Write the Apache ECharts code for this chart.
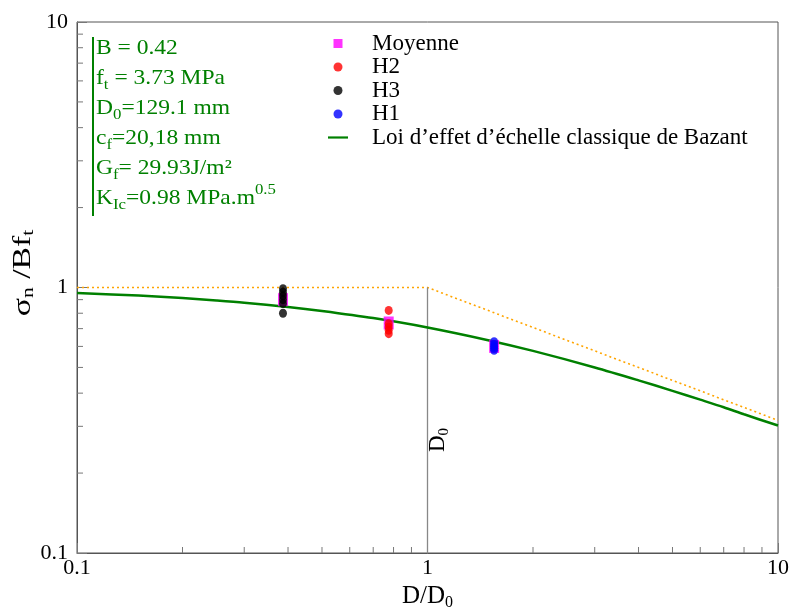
<!DOCTYPE html>
<html>
<head>
<meta charset="utf-8">
<script src="https://cdn.jsdelivr.net/npm/echarts@6/dist/echarts.min.js"></script>
<style>html,body{margin:0;padding:0;background:#fff}#c{width:790px;height:608px}</style>
</head>
<body>
<div id="c"></div>
<script>
// ---- data ----
const xTickLabels = ['0.1', '1', '10'];
const yTickLabels = ['0.1', '1', '10'];
const minorTicks = [0.2, 0.3, 0.4, 0.5, 0.6, 0.7, 0.8, 0.9, 2, 3, 4, 5, 6, 7, 8, 9];

const moyenne = [[0.387, 0.90], [0.775, 0.735], [1.549, 0.60]];
const h2 = [[0.775, 0.82], [0.775, 0.73], [0.775, 0.71], [0.775, 0.69], [0.775, 0.67]];
const h3 = [[0.387, 0.99], [0.387, 0.96], [0.387, 0.93], [0.387, 0.90], [0.387, 0.87], [0.387, 0.80]];
const h1 = [[1.549, 0.625], [1.549, 0.61], [1.549, 0.60], [1.549, 0.59], [1.549, 0.58]];

const bazantX = [0.1, 0.15, 0.2, 0.25, 0.3, 0.4, 0.5, 0.7, 1, 1.5, 2, 3, 4, 5, 6, 7, 8, 10];
const bazantY = [0.953, 0.932, 0.913, 0.894, 0.877, 0.845, 0.816, 0.767, 0.707, 0.632, 0.577, 0.50, 0.447, 0.408, 0.378, 0.354, 0.333, 0.302];

const limitX = [0.1, 1, 10];
const limitY = [1, 1, 0.316];

const d0LineX = [1, 1];
const d0LineY = [0.1, 1];

const lawName = 'Loi d\u2019effet d\u2019\u00e9chelle classique de Bazant';

// ---- chart ----
const serif = '"Liberation Serif", "DejaVu Serif", serif';
const chart = echarts.init(document.getElementById('c'), null, {renderer: 'canvas'});

const zip = (a, b) => a.map((v, i) => [v, b[i]]);

const option = {
  backgroundColor: '#fff',
  animation: false,
  grid: {left: 77, right: 12, top: 22, bottom: 55, show: true, borderColor: '#555', borderWidth: 1,
    containLabel: false, outerBoundsMode: 'none'},
  legend: {
    left: 323, top: 27, orient: 'vertical', itemGap: 0.5, itemWidth: 20, itemHeight: 9,
    textStyle: {fontFamily: serif, fontSize: 23, color: '#000', lineHeight: 23, padding: [0, 0, 0, 19]},
    data: [
      {name: 'Moyenne', icon: 'path://M0,0H10V10H0Z'},
      {name: 'H2', icon: 'path://M0,4A4,4,0,1,1,8,4A4,4,0,1,1,0,4Z'},
      {name: 'H3', icon: 'path://M0,4A4,4,0,1,1,8,4A4,4,0,1,1,0,4Z'},
      {name: 'H1', icon: 'path://M0,4A4,4,0,1,1,8,4A4,4,0,1,1,0,4Z'},
      {name: lawName, icon: 'path://M0,0H20V2.2H0Z'}
    ]
  },
  xAxis: {
    type: 'log', logBase: 10, min: 0.1, max: 10,
    name: '{a|D/D}{s|0}', nameLocation: 'middle', nameGap: 21,
    nameTextStyle: {rich: {
      a: {fontFamily: serif, fontSize: 25, color: '#000', lineHeight: 28},
      s: {fontFamily: serif, fontSize: 16, color: '#000', lineHeight: 10, verticalAlign: 'bottom'}
    }},
    axisLine: {lineStyle: {color: '#555', width: 1}},
    axisTick: {inside: true, length: 10, lineStyle: {color: '#777'}},
    axisLabel: {fontFamily: serif, fontSize: 22, color: '#000', margin: 4, showMinLabel: true, showMaxLabel: true,
      formatter: (v, i) => xTickLabels[i]},
    splitLine: {show: false}
  },
  yAxis: {
    type: 'log', logBase: 10, min: 0.1, max: 10,
    axisLine: {lineStyle: {color: '#555', width: 1}},
    axisTick: {inside: true, length: 10, lineStyle: {color: '#777'}},
    axisLabel: {fontFamily: serif, fontSize: 22, color: '#000', margin: 9, showMinLabel: true, showMaxLabel: true,
      formatter: (v, i) => yTickLabels[i]},
    splitLine: {show: false}
  },
  series: [
    {
      type: 'custom', silent: true, z: 1,
      data: minorTicks.map(v => [v, 0.1]),
      renderItem: (params, api) => {
        const p = api.coord([api.value(0), api.value(1)]);
        return {type: 'line', shape: {x1: p[0], y1: p[1], x2: p[0], y2: p[1] - 6}, style: {stroke: '#777', lineWidth: 1}};
      }
    },
    {
      type: 'custom', silent: true, z: 1,
      data: minorTicks.map(v => [0.1, v]),
      renderItem: (params, api) => {
        const p = api.coord([api.value(0), api.value(1)]);
        return {type: 'line', shape: {x1: p[0], y1: p[1], x2: p[0] + 6, y2: p[1]}, style: {stroke: '#777', lineWidth: 1}};
      }
    },
    {
      name: 'limit', type: 'line', data: zip(limitX, limitY), symbol: 'none', silent: true, z: 2,
      lineStyle: {color: '#ffa500', width: 1.6, type: [2, 3]}
    },
    {
      name: 'D0', type: 'line', data: zip(d0LineX, d0LineY), symbol: 'none', silent: true, z: 2,
      lineStyle: {color: '#888', width: 1.3}
    },
    {
      name: lawName, type: 'line', data: zip(bazantX, bazantY), symbol: 'none', smooth: 0.3, z: 3,
      lineStyle: {color: '#008000', width: 2.5}, itemStyle: {color: '#008000'}
    },
    {
      name: 'Moyenne', type: 'scatter', data: moyenne, symbol: 'rect', symbolSize: [10, 13], z: 4,
      itemStyle: {color: '#ff00ff'}
    },
    {
      name: 'H2', type: 'scatter', data: h2, symbol: 'circle', symbolSize: [8, 9], z: 5,
      itemStyle: {color: '#ff0000'}
    },
    {
      name: 'H3', type: 'scatter', data: h3, symbol: 'circle', symbolSize: [8, 9], z: 5,
      itemStyle: {color: '#000000'}
    },
    {
      name: 'H1', type: 'scatter', data: h1, symbol: 'circle', symbolSize: [8, 9], z: 5,
      itemStyle: {color: '#0000ff'}
    }
  ],
  graphic: [
    {
      type: 'line', shape: {x1: 93, y1: 37, x2: 93, y2: 216}, style: {stroke: '#008000', lineWidth: 2}, z: 10
    },
    {
      type: 'text', x: 96, y: 33, scaleX: 1.12, z: 10,
      style: {
        text: [
          '{m|B = 0.42}',
          '{m|f}{s|t}{m| = 3.73 MPa}',
          '{m|D}{s|0}{m|=129.1 mm}',
          '{m|c}{s|f}{m|=20,18 mm}',
          '{m|G}{s|f}{m|= 29.93J/m\u00b2}',
          '{m|K}{s|Ic}{m|=0.98 MPa.m}{p|0.5}'
        ].join('\n'),
        rich: {
          m: {fontFamily: serif, fontSize: 21, fill: '#008000', lineHeight: 30},
          s: {fontFamily: serif, fontSize: 15, fill: '#008000', lineHeight: 10, verticalAlign: 'bottom'},
          p: {fontFamily: serif, fontSize: 15, fill: '#008000', lineHeight: 14, verticalAlign: 'top'}
        }
      }
    },
    {
      type: 'text', x: 23, y: 273, rotation: Math.PI / 2, scaleX: 1.35, z: 10,
      style: {
        text: '{a|\u03c3}{s|n}{a| /Bf}{s|t}', align: 'center', verticalAlign: 'middle',
        rich: {
          a: {fontFamily: serif, fontSize: 25, fill: '#000', lineHeight: 28},
          s: {fontFamily: serif, fontSize: 16, fill: '#000', lineHeight: 10, verticalAlign: 'bottom'}
        }
      }
    },
    {
      type: 'text', x: 438, y: 440, rotation: Math.PI / 2, z: 10,
      style: {
        text: '{a|D}{s|0}', align: 'center', verticalAlign: 'middle',
        rich: {
          a: {fontFamily: serif, fontSize: 23, fill: '#000', lineHeight: 28},
          s: {fontFamily: serif, fontSize: 15, fill: '#000', lineHeight: 10, verticalAlign: 'bottom'}
        }
      }
    }
  ]
};
chart.setOption(option);
</script>
</body>
</html>
